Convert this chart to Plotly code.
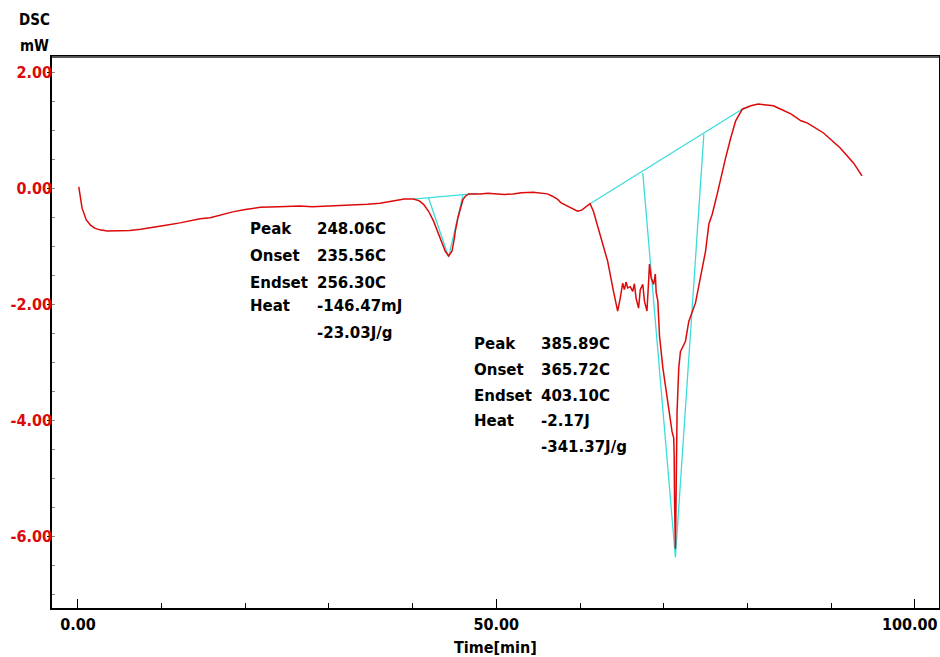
import plotly.graph_objects as go

# DSC trace
time_min = [
    0.1, 0.5, 1.0, 1.5, 2.0, 2.6, 3.5, 5.0, 6.2, 7.5, 8.6, 10.5, 12.2, 14.6,
    15.8, 17.0, 18.5, 20.0, 21.8, 24.0, 26.5, 28.0, 29.8, 32.0, 34.6, 36.1,
    37.7, 39.0, 40.1, 40.8, 41.3, 41.9, 42.5, 43.0, 43.3, 43.7, 43.9, 44.3,
    44.7, 45.0, 45.1, 45.4, 45.7, 46.0, 46.3, 46.7, 48.1, 49.0, 50.1, 51.0,
    52.0, 53.0, 54.4, 55.3, 56.1, 56.7, 57.3, 57.7, 58.5, 58.9, 59.7, 60.2,
    60.6, 61.2, 61.6, 62.0, 62.4, 63.3, 64.0, 64.5, 64.8, 65.1, 65.3, 65.5,
    65.7, 66.0, 66.3, 66.5, 66.7, 67.0, 67.2, 67.5, 67.7, 68.0, 68.2, 68.3,
    68.5, 68.8, 69.0, 69.1, 69.3, 69.5, 69.9, 70.5, 70.8, 71.0, 71.2, 71.25,
    71.3, 71.35, 71.4, 71.45, 71.5, 71.6, 71.8, 72.0, 72.6, 73.0, 73.8, 74.4,
    75.0, 75.4, 75.8, 76.4, 76.8, 77.4, 78.0, 78.6, 79.4, 80.4, 81.3, 82.4,
    83.1, 84.0, 85.2, 86.4, 87.2, 89.1, 91.1, 92.7, 93.7,
]
dsc_mw = [
    0.02, -0.35, -0.55, -0.64, -0.69, -0.72, -0.74, -0.74, -0.73, -0.71, -0.68,
    -0.64, -0.60, -0.53, -0.51, -0.46, -0.41, -0.37, -0.33, -0.32, -0.31, -0.32,
    -0.31, -0.30, -0.28, -0.26, -0.22, -0.19, -0.19, -0.22, -0.28, -0.40, -0.57,
    -0.75, -0.86, -1.00, -1.09, -1.17, -1.09, -0.85, -0.74, -0.52, -0.35, -0.20,
    -0.14, -0.10, -0.10, -0.09, -0.10, -0.11, -0.10, -0.08, -0.07, -0.08, -0.10,
    -0.14, -0.19, -0.25, -0.31, -0.34, -0.40, -0.38, -0.34, -0.27, -0.40, -0.60,
    -0.80, -1.26, -1.78, -2.12, -1.90, -1.64, -1.75, -1.62, -1.72, -1.70, -1.78,
    -1.65, -1.90, -2.07, -1.75, -1.66, -1.95, -2.12, -1.60, -1.31, -1.55, -1.66,
    -1.48, -1.80, -1.95, -2.55, -3.10, -3.68, -4.02, -4.20, -4.31, -4.60, -5.41,
    -5.90, -6.22, -5.70, -4.70, -3.85, -3.10, -2.82, -2.64, -2.30, -1.98, -1.55,
    -1.09, -0.62, -0.45, -0.10, 0.17, 0.52, 0.86, 1.16, 1.36, 1.42, 1.45, 1.43,
    1.42, 1.36, 1.28, 1.16, 1.12, 0.95, 0.69, 0.43, 0.21,
]

# construction lines (baseline + tangents) for both peaks
peak1_base_t = [40.1, 47.7]
peak1_base_y = [-0.19, -0.09]
peak1_tan_t = [41.9, 44.3, 46.0]
peak1_tan_y = [-0.17, -1.19, -0.12]

peak2_base_t = [61.2, 79.6]
peak2_base_y = [-0.27, 1.38]
peak2_tan_t = [67.5, 71.4, 74.8]
peak2_tan_y = [0.26, -6.37, 0.93]

# result tables
peak1_names = ["Peak", "Onset", "Endset", "Heat", ""]
peak1_values = ["248.06C", "235.56C", "256.30C", "-146.47mJ", "-23.03J/g"]
peak2_names = ["Peak", "Onset", "Endset", "Heat", ""]
peak2_values = ["385.89C", "365.72C", "403.10C", "-2.17J", "-341.37J/g"]

# ticks (last x label nudged left with nbsp so it stays inside the page)
x_ticks = [0, 50, 100]
x_ticklabels = ["0.00", "50.00", "100.00\u00a0\u00a0"]
y_ticks = [-6, -4, -2, 0, 2]
y_ticklabels = ["-6.00", "-4.00", "-2.00", "0.00", "2.00"]

RED = "#dc0a0a"
CYAN = "#3cdcdc"
AX_FONT = dict(family="DejaVu Sans Condensed, DejaVu Sans", size=16, weight="bold")
TXT_FONT = dict(family="DejaVu Sans", size=15, weight="bold", color="black")

fig = go.Figure()
for bt, by in [(peak1_base_t, peak1_base_y), (peak1_tan_t, peak1_tan_y),
               (peak2_base_t, peak2_base_y), (peak2_tan_t, peak2_tan_y)]:
    fig.add_trace(go.Scatter(x=bt, y=by, mode="lines",
                             line=dict(color=CYAN, width=1.3), hoverinfo="skip"))
fig.add_trace(go.Scatter(x=time_min, y=dsc_mw, mode="lines",
                         line=dict(color=RED, width=1.5)))

# text blocks: rows in data units
rows1 = [-0.71, -1.17, -1.64, -2.03, -2.50]
rows2 = [-2.69, -3.14, -3.59, -4.02, -4.47]
for names, vals, rows, xl, xv in [(peak1_names, peak1_values, rows1, 20.3, 28.3),
                                   (peak2_names, peak2_values, rows2, 47.1, 55.1)]:
    for n, v, r in zip(names, vals, rows):
        if n:
            fig.add_annotation(x=xl, y=r, text=n, showarrow=False, xanchor="left",
                               yanchor="middle", font=TXT_FONT)
        fig.add_annotation(x=xv, y=r, text=v, showarrow=False, xanchor="left",
                           yanchor="middle", font=TXT_FONT)

fig.add_annotation(xref="paper", yref="paper", x=-0.020, y=1.067, text="DSC",
                   showarrow=False, xanchor="center", yanchor="middle",
                   font=dict(AX_FONT, size=15, color="black"))
fig.add_annotation(xref="paper", yref="paper", x=-0.020, y=1.02, text="mW",
                   showarrow=False, xanchor="center", yanchor="middle",
                   font=dict(AX_FONT, size=15, color="black"))
fig.add_annotation(xref="paper", yref="paper", x=0.5, y=-0.071, text="Time[min]",
                   showarrow=False, xanchor="center", yanchor="middle",
                   font=dict(AX_FONT, color="black"))

# grey top edge of the frame
fig.add_shape(type="line", xref="paper", yref="paper", x0=0, x1=1, y0=1, y1=1,
              line=dict(color="#555555", width=2), layer="above")

fig.update_layout(
    width=940, height=657,
    margin=dict(l=52, r=1, t=57, b=49),
    paper_bgcolor="white", plot_bgcolor="white",
    showlegend=False,
    xaxis=dict(range=[-3.1, 102.9], tickvals=x_ticks, ticktext=x_ticklabels,
               ticks="inside", ticklen=9, tickcolor="black", showgrid=False,
               zeroline=False, showline=True, mirror=True, linecolor="black",
               linewidth=1.5, tickfont=dict(AX_FONT, color="black"),
               ticklabelstandoff=1, ticklabeloverflow="allow", automargin=False,
               minor=dict(dtick=10, tick0=0, ticks="inside", ticklen=5,
                          tickcolor="black")),
    yaxis=dict(range=[-7.24, 2.26], tickvals=y_ticks, ticktext=y_ticklabels,
               ticks="outside", ticklen=3, tickcolor="black", showgrid=False,
               zeroline=False, showline=True, mirror=True, linecolor="black",
               linewidth=1.5, tickfont=dict(AX_FONT, color=RED),
               ticklabelstandoff=-8, automargin=False,
               minor=dict(dtick=0.5, tick0=0, ticks="inside", ticklen=3,
                          tickcolor="#888888")),
)

fig.write_html("out.html", config={"displayModeBar": False},
               post_script="document.body.style.margin='0';")
